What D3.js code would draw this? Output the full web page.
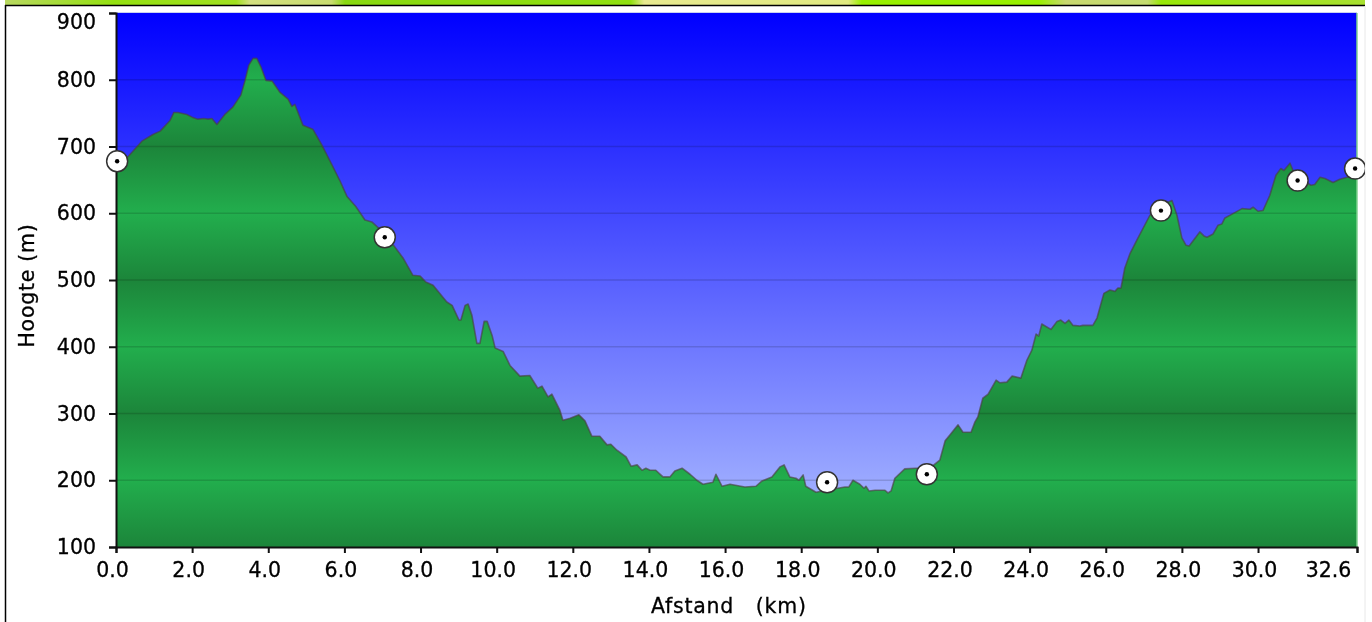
<!DOCTYPE html>
<html>
<head>
<meta charset="utf-8">
<script src="https://cdn.jsdelivr.net/npm/d3@7/dist/d3.min.js"></script>
<style>
  html, body { margin: 0; padding: 0; background: #fff; overflow: hidden; }
  svg { display: block; filter: blur(0.4px); }
  text { font-family: "DejaVu Sans", sans-serif; fill: #000; stroke: #000; stroke-width: 0.3px; }
  .tick text { font-size: 20.5px; }
  .axis-title { font-size: 20.5px; letter-spacing: 0.75px; }
</style>
</head>
<body>
<svg id="chart" width="1372" height="622"></svg>
<script>
// distance along the route (km) and height (m)
const distKm = [0,0.32,0.68,0.97,1.16,1.42,1.52,1.63,1.86,2.0,2.15,2.31,2.42,2.52,2.65,2.86,3.07,3.28,3.39,3.49,3.60,3.70,3.81,3.94,4.10,4.31,4.52,4.62,4.70,4.91,5.17,5.41,5.67,5.88,6.07,6.30,6.54,6.72,7.01,7.33,7.54,7.80,7.99,8.14,8.33,8.69,8.83,9.01,9.06,9.17,9.25,9.35,9.48,9.56,9.67,9.75,9.88,9.96,10.17,10.35,10.61,10.87,11.08,11.19,11.35,11.45,11.66,11.74,11.93,12.16,12.32,12.50,12.71,12.90,13.00,13.16,13.40,13.53,13.69,13.82,13.92,14.03,14.18,14.37,14.55,14.68,14.87,15.08,15.26,15.42,15.68,15.76,15.92,16.13,16.52,16.81,16.97,17.23,17.44,17.55,17.70,17.86,17.94,18.05,18.12,18.39,18.65,18.96,19.15,19.25,19.36,19.54,19.65,19.70,19.78,19.94,20.20,20.28,20.36,20.46,20.72,21.01,21.38,21.64,21.78,21.91,22.12,22.25,22.46,22.56,22.64,22.77,22.91,23.12,23.22,23.40,23.54,23.77,23.93,24.06,24.17,24.24,24.32,24.56,24.72,24.82,24.93,25.03,25.14,25.32,25.40,25.66,25.77,25.95,26.11,26.24,26.32,26.40,26.50,26.64,26.82,27.16,27.45,27.74,27.87,28.0,28.11,28.19,28.47,28.58,28.66,28.82,28.95,29.05,29.13,29.39,29.58,29.79,29.87,30.0,30.13,30.31,30.47,30.60,30.68,30.84,30.92,31.10,31.39,31.49,31.63,31.76,31.97,32.15,32.34,32.6];
const heightM = [679,685,708,718,723,739,751,751,748,744,741,742,741,742,733,748,759,777,799,822,832,832,819,799,798,781,771,760,763,732,726,702,673,649,625,610,590,587,572,549,533,507,506,497,492,467,462,440,440,462,464,447,405,405,438,438,417,398,393,372,356,357,338,341,325,329,305,290,293,298,289,266,266,253,254,245,235,221,223,215,218,215,215,205,205,214,218,209,200,194,197,209,191,194,190,191,199,205,220,223,205,203,200,208,191,182,185,188,190,190,200,194,188,191,184,185,185,181,184,203,217,218,218,230,259,268,283,272,272,287,295,323,329,350,346,347,356,353,380,395,419,416,434,426,438,440,435,440,432,431,432,432,443,480,485,483,488,488,518,540,560,597,612,619,597,563,552,551,572,566,564,569,582,584,593,601,607,606,609,603,604,627,657,667,664,675,664,652,642,643,654,652,646,651,654,654];

// waypoint markers
const markerKm = [0.03,7.06,18.68,21.30,27.45,31.04,32.55];
const markerM = [678,564,197,209,604,649,667];

const yTicks = [100,200,300,400,500,600,700,800,900];
const xTicks = [0,2,4,6,8,10,12,14,16,18,20,22,24,26,28,30,32.6];

const svg = d3.select("#chart");
const left = 116, right = 1357, top_ = 13, bottom = 547;

const x = d3.scaleLinear().domain([0, 32.6]).range([left, right]);
const y = d3.scaleLinear().domain([100, 900]).range([bottom, top_]);

const defs = svg.append("defs");

// sky: full blue at the top fading out towards the bottom
const sky = defs.append("linearGradient").attr("id", "sky").attr("x1", 0).attr("x2", 0).attr("y1", 0).attr("y2", 1);
sky.append("stop").attr("offset", "0%").attr("stop-color", "#0000ff");
sky.append("stop").attr("offset", "100%").attr("stop-color", "#b0c0ff");

// ground: dark on the odd hundreds, light on the even ones
const ground = defs.append("linearGradient").attr("id", "ground")
  .attr("gradientUnits", "userSpaceOnUse").attr("x1", 0).attr("x2", 0).attr("y1", y(900)).attr("y2", y(100));
yTicks.forEach(function(v, i) {
  ground.append("stop")
    .attr("offset", (i / 8 * 100) + "%")
    .attr("stop-color", v % 200 == 0 ? "#22ae4d" : "#1c853a");
});

// bit of map showing above the chart
const strip = defs.append("linearGradient").attr("id", "strip");
[["0%","#b8d860"],["8%","#94e010"],["17%","#a0e020"],["18%","#d4e080"],["24%","#c8dc70"],["25%","#88d810"],["46%","#90e010"],["47%","#e8ea90"],["62%","#e0ea80"],["63%","#98f000"],["76%","#98f000"],["78%","#c8d870"],["84%","#c4dc70"],["85%","#98e808"],["100%","#a8e030"]].forEach(function(s) {
  strip.append("stop").attr("offset", s[0]).attr("stop-color", s[1]);
});

defs.append("clipPath").attr("id", "panel").append("rect")
  .attr("x", 6).attr("y", 6).attr("width", 1359).attr("height", 616);

svg.append("rect").attr("x", 5).attr("y", 0).attr("width", 1360).attr("height", 5).attr("fill", "url(#strip)");
svg.append("line").attr("x1", 5).attr("x2", 1365).attr("y1", 5.5).attr("y2", 5.5).attr("stroke", "#000").attr("stroke-width", 1.5);
svg.append("line").attr("x1", 5.5).attr("x2", 5.5).attr("y1", 5).attr("y2", 622).attr("stroke", "#000").attr("stroke-width", 1.5);
svg.append("line").attr("x1", 1365).attr("x2", 1365).attr("y1", 6).attr("y2", 622).attr("stroke", "#e8e8e8").attr("stroke-width", 1);

// plot background
svg.append("rect")
  .attr("x", left).attr("y", top_)
  .attr("width", right - left).attr("height", bottom - top_)
  .attr("fill", "url(#sky)");
svg.append("line").attr("x1", left).attr("x2", right).attr("y1", top_ - 0.5).attr("y2", top_ - 0.5)
  .attr("stroke", "#c8d0f0").attr("stroke-width", 1);

const points = distKm.map(function(d, i) { return [d, heightM[i]]; });

const area = d3.area()
  .x(function(d) { return x(d[0]); })
  .y0(bottom)
  .y1(function(d) { return y(d[1]); });

svg.append("path").datum(points).attr("d", area).attr("fill", "url(#ground)");

// grid goes over the ground too
svg.append("g").selectAll("line")
  .data(yTicks.slice(1, -1))
  .enter().append("line")
    .attr("x1", left).attr("x2", right)
    .attr("y1", function(d) { return y(d); })
    .attr("y2", function(d) { return y(d); })
    .attr("stroke", "#000").attr("stroke-opacity", 0.14).attr("stroke-width", 1.6);

const line = d3.line()
  .x(function(d) { return x(d[0]); })
  .y(function(d) { return y(d[1]); });

svg.append("path").datum(points).attr("d", line)
  .attr("fill", "none").attr("stroke", "#4a4040").attr("stroke-opacity", 0.65).attr("stroke-width", 1.6)
  .attr("stroke-linejoin", "round");

// pale edge on the right of the plot
svg.append("line").attr("x1", right).attr("x2", right).attr("y1", top_).attr("y2", bottom)
  .attr("stroke", "#7fd08f").attr("stroke-width", 1.5);

const yAxis = d3.axisLeft(y).tickValues(yTicks).tickFormat(d3.format("d")).tickSize(7).tickPadding(13);
const xAxis = d3.axisBottom(x).tickValues(xTicks).tickFormat(d3.format(".1f")).tickSize(6).tickPadding(9);

const gy = svg.append("g").attr("transform", "translate(" + left + ",0)").call(yAxis);
const gx = svg.append("g").attr("transform", "translate(0," + bottom + ")").call(xAxis);
[gy, gx].forEach(function(g) {
  g.selectAll(".domain").attr("stroke", "#111").attr("stroke-width", 2);
  g.selectAll(".tick line").attr("stroke", "#111").attr("stroke-width", 2);
});

// labels sit a little off their ticks in the original, top and last ones most
gy.selectAll(".tick text").filter(function(d) { return d == 900; }).attr("dy", "0.77em");
gx.selectAll(".tick text").attr("dx", function(d) { return d == 32.6 ? -29 : -4; });

svg.append("text").attr("class", "axis-title")
  .attr("text-anchor", "middle")
  .attr("transform", "translate(34,285.5) rotate(-90)")
  .text("Hoogte (m)");

svg.append("text").attr("class", "axis-title")
  .attr("x", 651).attr("y", 613)
  .attr("xml:space", "preserve")
  .text("Afstand   (km)");

// waypoints, the last one is cut off by the panel edge
const marks = svg.append("g").attr("clip-path", "url(#panel)").selectAll("g")
  .data(markerKm)
  .enter().append("g")
    .attr("transform", function(d, i) { return "translate(" + x(d) + "," + y(markerM[i]) + ")"; });
marks.append("circle").attr("r", 10.5).attr("fill", "#fff").attr("stroke", "#333").attr("stroke-width", 1.5);
marks.append("circle").attr("r", 2.2).attr("fill", "#000");
</script>
</body>
</html>
